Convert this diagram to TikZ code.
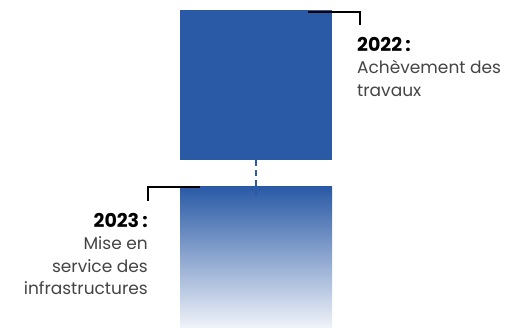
\documentclass[tikz,border=0pt]{standalone}
\usepackage{fontspec}
\setmainfont{Poppins}
\usepackage{xcolor}
\usetikzlibrary{positioning}
\definecolor{chantier}{HTML}{2A5AA6}
\definecolor{fond}{HTML}{F0F3F9}
\definecolor{gristexte}{HTML}{444444}
\newcommand{\annee}[1]{{\fontsize{19}{22}\selectfont\bfseries\color{black}#1\,:}}

\begin{document}
\begin{tikzpicture}[x=1pt,y=-1pt]
    \useasboundingbox (0,0) rectangle (513,328);

    \tikzset{
        etape/.style={rectangle, minimum width=152pt, inner sep=0pt},
        legende/.style={font=\fontsize{17}{22.5}\selectfont, text=gristexte, inner sep=0pt},
        repere/.style={line width=2.4pt, black}
    }

    \node [etape, minimum height=150pt, fill=chantier] (travaux) at (256,85) {};
    \node [etape, minimum height=141pt, top color=chantier, bottom color=fond] (service) at (256,257.5) {};

    \draw [chantier, line width=2.6pt, dash pattern=on 6pt off 4pt] (travaux.south) -- ([yshift=-10pt]service.north);

    \coordinate (r1a) at (308,12);
    \coordinate (r1b) at (360,12);
    \coordinate (r1c) at (360,25);
    \draw [repere] (r1a) -- (r1b) -- (r1c);

    \coordinate (r2a) at (200,187);
    \coordinate (r2b) at (148,187);
    \coordinate (r2c) at (148,201);
    \draw [repere] (r2a) -- (r2b) -- (r2c);

    \node [legende, anchor=north west, align=left] (t2022) at (357,37)
        {\annee{2022}\\Achèvement des\\travaux};
    \node [legende, anchor=north east, align=right] (t2023) at (148,213)
        {\annee{2023}\\Mise en\\service des\\infrastructures};
\end{tikzpicture}
\end{document}
